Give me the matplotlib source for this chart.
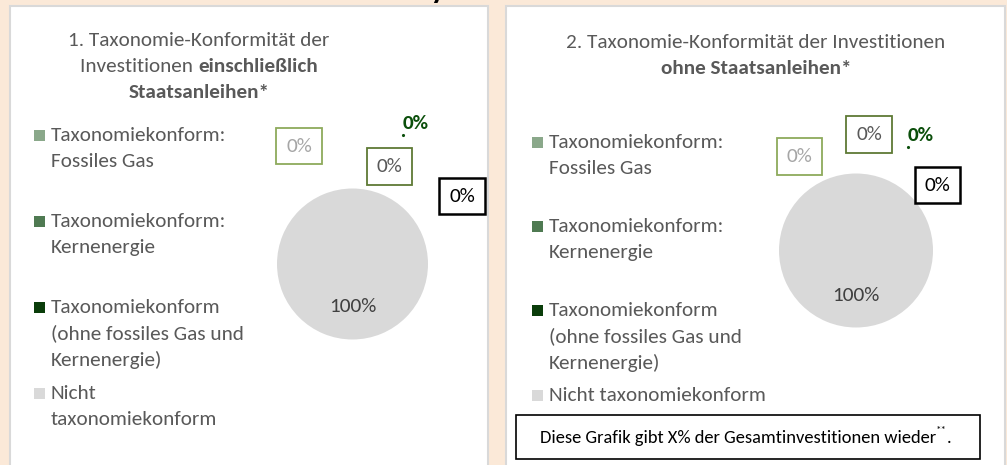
import matplotlib
matplotlib.use("Agg")
import matplotlib.pyplot as plt
from matplotlib.patches import Rectangle

plt.rcParams['font.family'] = ['Carlito', 'Lato', 'DejaVu Sans']

# Data
legend_left = [
    ["Taxonomiekonform:", "Fossiles Gas"],
    ["Taxonomiekonform:", "Kernenergie"],
    ["Taxonomiekonform", "(ohne fossiles Gas und", "Kernenergie)"],
    ["Nicht", "taxonomiekonform"],
]
legend_right = [
    ["Taxonomiekonform:", "Fossiles Gas"],
    ["Taxonomiekonform:", "Kernenergie"],
    ["Taxonomiekonform", "(ohne fossiles Gas und", "Kernenergie)"],
    ["Nicht taxonomiekonform"],
]
values_incl = [0, 0, 0, 100]   # einschließlich Staatsanleihen
values_excl = [0, 0, 0, 100]   # ohne Staatsanleihen
note = "Diese Grafik gibt X% der Gesamtinvestitionen wieder"

colors = ['#8AA88A', '#4F7A52', '#0A3D0A', '#D9D9D9']
peach = '#FBE9D8'
txt_grey = '#595959'

W, H = 1007, 465
fig = plt.figure(figsize=(W / 100, H / 100), dpi=100)
fig.patch.set_facecolor(peach)
bg = fig.add_axes([0, 0, 1, 1])
bg.set_xlim(0, W)
bg.set_ylim(H, 0)
bg.axis('off')

# white panels
bg.add_patch(Rectangle((10, 6), 478, 470, facecolor='white', edgecolor='#D9D9D9', lw=1.5))
bg.add_patch(Rectangle((506, 6), 499, 470, facecolor='white', edgecolor='#D9D9D9', lw=1.5))
# cut-off heading above the panels (only the descender shows)
bg.text(438, -2, "y", fontsize=22, fontweight='bold', color='black', ha='center', va='baseline')

renderer = fig.canvas.get_renderer()
FS = 15.3


def mixed_line(parts, cx, y):
    """parts: list of (text, bold) drawn side by side, centred on cx"""
    objs = []
    for s, b in parts:
        t = bg.text(0, y, s, fontsize=FS, color=txt_grey, va='center', ha='left',
                    fontweight='bold' if b else 'normal')
        objs.append(t)
    widths = [o.get_window_extent(renderer).width for o in objs]
    x = cx - sum(widths) / 2
    for o, w in zip(objs, widths):
        o.set_x(x)
        x += w


# titles
mixed_line([("1. Taxonomie-Konformität der", False)], 199, 41)
mixed_line([("Investitionen ", False), ("einschließlich", True)], 199, 66)
mixed_line([("Staatsanleihen*", True)], 199, 92)
mixed_line([("2. Taxonomie-Konformität der Investitionen", False)], 756, 42)
mixed_line([("ohne Staatsanleihen*", True)], 756, 68)


def legend(items, x, ys):
    for lines, col, y0 in zip(items, colors, ys):
        bg.add_patch(Rectangle((x, y0 - 5.5), 11, 11, facecolor=col, edgecolor='none'))
        for k, line in enumerate(lines):
            bg.text(x + 17, y0 + k * 26.5, line, fontsize=FS, color=txt_grey,
                    va='center', ha='left')


legend(legend_left, 34, [135, 221, 307, 393])
legend(legend_right, 532, [142, 226, 310, 395])

box_pad = 'square,pad=0.46'
label_styles = [
    dict(color='#A6A6A6', bbox=dict(boxstyle=box_pad, fc='white', ec='#8EAA5C', lw=1.3)),
    dict(color=txt_grey, bbox=dict(boxstyle=box_pad, fc='white', ec='#5E7A35', lw=1.3)),
    dict(color='#0B4F0B', fontweight='bold'),
]


def add_pie(values, cx, cy, r, label_pos, big_pos):
    ax = fig.add_axes([(cx - r) / W, 1 - (cy + r) / H, 2 * r / W, 2 * r / H])
    ax.pie(values, colors=colors, startangle=90, counterclock=False,
           wedgeprops=dict(linewidth=0))
    ax.set_xlim(-1, 1)
    ax.set_ylim(-1, 1)
    ax.axis('off')
    # zero-value labels (fossil gas, nuclear, other aligned)
    for v, st, (lx, ly) in zip(values[:3], label_styles, label_pos[:3]):
        ax.text(lx, ly, f"{v:.0f}%", fontsize=FS, ha='center', va='center',
                clip_on=False, **st)
    # extra boxed label outside the pie
    lx, ly = label_pos[3]
    ax.text(lx, ly, f"{values[2]:.0f}%", fontsize=FS, ha='center', va='center', color='black',
            clip_on=False,
            bbox=dict(boxstyle=box_pad, fc='white', ec='black', lw=1.8))
    ax.text(big_pos[0], big_pos[1], f"{values[3]:.0f}%", fontsize=FS, ha='center',
            va='center', color='#404040', clip_on=False)
    # tiny leader mark under the bold label
    ax.plot([label_pos[2][0] - 0.16], [label_pos[2][1] - 0.15], marker='.', ms=2.5,
            color='#0B4F0B', clip_on=False)
    return ax


add_pie(values_incl, 352.5, 264, 75.5,
        [(-0.71, 1.56), (0.49, 1.29), (0.83, 1.86), (1.45, 0.90)], (0, -0.56))
add_pie(values_excl, 856, 250.5, 77,
        [(-0.73, 1.22), (0.17, 1.51), (0.84, 1.50), (1.06, 0.85)], (0, -0.58))

# note box
bg.add_patch(Rectangle((516, 415), 464, 44, facecolor='white', edgecolor='black', lw=1.2))
t1 = bg.text(0, 438, note, fontsize=13.3, color='black', va='center', ha='left')
t2 = bg.text(0, 430, "**", fontsize=8, color='black', va='center', ha='left')
t3 = bg.text(0, 438, ".", fontsize=13.3, color='black', va='center', ha='left')
w1, w2, w3 = (t.get_window_extent(renderer).width for t in (t1, t2, t3))
x0 = 746 - (w1 + w2 + w3) / 2
t1.set_x(x0)
t2.set_x(x0 + w1)
t3.set_x(x0 + w1 + w2)

fig.savefig('out.png', dpi=100, facecolor=peach)
